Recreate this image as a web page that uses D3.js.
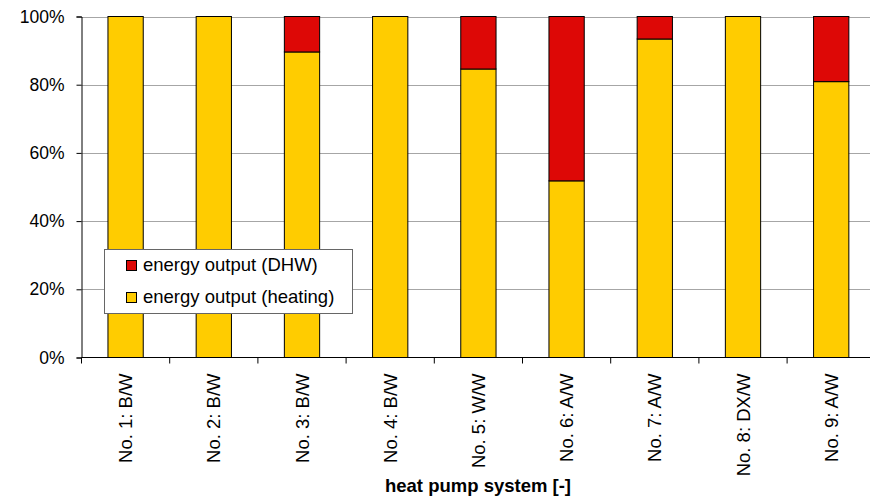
<!DOCTYPE html>
<html>
<head>
<meta charset="utf-8">
<script src="https://cdn.jsdelivr.net/npm/d3@7"></script>
<style>
  html, body { margin: 0; padding: 0; background: #fff; }
  svg { display: block; font-family: Arial, "Liberation Sans", sans-serif; }
</style>
</head>
<body>
<svg id="chart" width="870" height="501"></svg>
<script>
// ---- data ----
const categories = ["No. 1: B/W", "No. 2: B/W", "No. 3: B/W", "No. 4: B/W", "No. 5: W/W",
                    "No. 6: A/W", "No. 7: A/W", "No. 8: DX/W", "No. 9: A/W"];
const heatingShare = [1.00, 1.00, 0.896, 1.00, 0.846, 0.518, 0.934, 1.00, 0.809];
const dhwShare = heatingShare.map(v => 1 - v);
const yTicks = [0, 0.2, 0.4, 0.6, 0.8, 1.0];
const seriesNames = ["energy output (DHW)", "energy output (heating)"];
const xTitle = "heat pump system [-]";

// ---- layout ----
const svg = d3.select("#chart");
const plotLeft = 81.5, plotTop = 16.5, plotBottom = 357.5;
const step = 88.2;
const plotRight = plotLeft + step * categories.length;
const colors = { heating: "#FFCC00", dhw: "#DD0806" };

const x = d3.scaleBand().domain(categories).range([plotLeft, plotRight]).paddingInner(0.6).paddingOuter(0.3);
const y = d3.scaleLinear().domain([0, 1]).range([plotBottom, plotTop]);

// gridlines
svg.append("g").selectAll("line").data(yTicks.filter(t => t > 0)).join("line")
  .attr("x1", plotLeft).attr("x2", plotRight)
  .attr("y1", d => Math.round(y(d)) + 0.5).attr("y2", d => Math.round(y(d)) + 0.5)
  .attr("stroke", "#a6a6a6").attr("stroke-width", 1);

// bars
const rows = categories.map((c, i) => ({ cat: c, heating: heatingShare[i], dhw: dhwShare[i] }));
const stack = d3.stack().keys(["heating", "dhw"])(rows);
svg.append("g").selectAll("g").data(stack).join("g")
  .attr("fill", d => colors[d.key])
  .selectAll("rect").data(d => d.filter(p => p[1] - p[0] > 0.0005)).join("rect")
  .attr("x", d => x(d.data.cat))
  .attr("width", x.bandwidth())
  .attr("y", d => y(d[1]))
  .attr("height", d => y(d[0]) - y(d[1]))
  .attr("stroke", "#000").attr("stroke-width", 1);

// y axis
const yAxis = d3.axisLeft(y).tickValues(yTicks).tickFormat(d3.format(".0%")).tickSize(5).tickPadding(12);
const gy = svg.append("g").attr("transform", `translate(${plotLeft},0)`).call(yAxis);
gy.select(".domain").attr("stroke", "#000");
gy.selectAll(".tick line").attr("stroke", "#000");
gy.selectAll(".tick text").attr("font-size", 17.5).attr("font-family", "Arial, 'Liberation Sans', sans-serif").attr("fill", "#000");

// x axis
const gx = svg.append("g").attr("transform", `translate(0,${plotBottom})`);
gx.append("line").attr("x1", plotLeft).attr("x2", plotRight).attr("y1", 0).attr("y2", 0).attr("stroke", "#000");
const boundaries = d3.range(categories.length + 1).map(i => plotLeft + i * x.step());
gx.selectAll("line.tk").data(boundaries).join("line").attr("class", "tk")
  .attr("x1", d => d).attr("x2", d => d).attr("y1", 0).attr("y2", 6).attr("stroke", "#000");
gx.selectAll("text").data(categories).join("text")
  .attr("transform", d => `translate(${x(d) + x.bandwidth() / 2},16) rotate(-90)`)
  .attr("text-anchor", "end").attr("dy", "0.36em")
  .attr("font-size", 18.5).attr("fill", "#000")
  .text(d => d);

// x title
svg.append("text").attr("x", 478).attr("y", 492).attr("text-anchor", "middle")
  .attr("font-size", 18.5).attr("font-weight", "bold").attr("fill", "#000").text(xTitle);

// legend
const lg = svg.append("g");
lg.append("rect").attr("x", 104.5).attr("y", 249.5).attr("width", 248).attr("height", 64)
  .attr("fill", "#fff").attr("stroke", "#666").attr("stroke-width", 1);
const legendColors = [colors.dhw, colors.heating];
seriesNames.forEach((name, i) => {
  const yy = 260.5 + i * 32;
  lg.append("rect").attr("x", 126.5).attr("y", yy).attr("width", 10).attr("height", 10)
    .attr("fill", legendColors[i]).attr("stroke", "#000");
  lg.append("text").attr("x", 143).attr("y", yy + 10).attr("font-size", 18.5).attr("fill", "#000").text(name);
});
</script>
</body>
</html>
